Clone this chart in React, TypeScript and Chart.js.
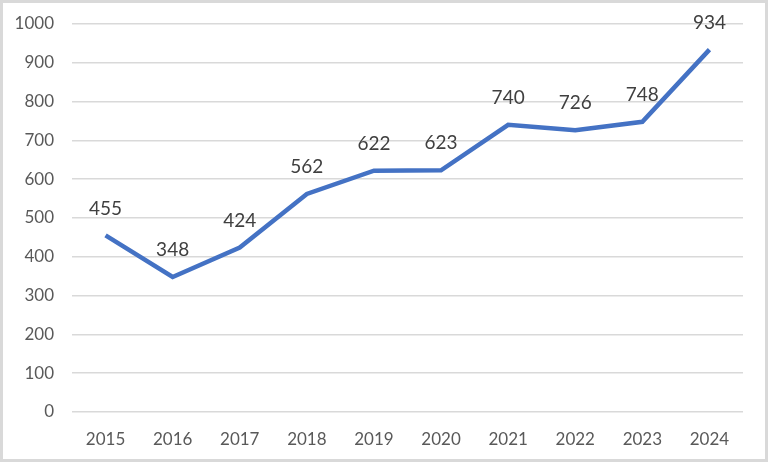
import React, { useEffect, useRef } from "react";
import { Chart, registerables } from "chart.js";

Chart.register(...registerables);

const categories = ["2015", "2016", "2017", "2018", "2019", "2020", "2021", "2022", "2023", "2024"];
const values = [455, 348, 424, 562, 622, 623, 740, 726, 748, 934];

const W = 768;
const H = 462;
const AREA = { left: 72, right: 743, top: 24, bottom: 412 };
const FONT = "Lato, 'Open Sans', sans-serif";

const borderPlugin = {
  id: "outerBorder",
  beforeDraw(chart: any) {
    const ctx = chart.ctx;
    ctx.save();
    ctx.fillStyle = "#ffffff";
    ctx.fillRect(0, 0, chart.width, chart.height);
    ctx.strokeStyle = "#d9d9d9";
    ctx.lineWidth = 3;
    ctx.strokeRect(1.5, 1.5, chart.width - 3, chart.height - 3);
    ctx.restore();
  },
};

const labelPlugin = {
  id: "pointLabels",
  afterDatasetsDraw(chart: any) {
    const ctx = chart.ctx;
    const meta = chart.getDatasetMeta(0);
    ctx.save();
    ctx.fillStyle = "#404040";
    ctx.font = `19px ${FONT}`;
    ctx.textAlign = "center";
    ctx.textBaseline = "middle";
    meta.data.forEach((pt: any, i: number) => {
      ctx.fillText(String(values[i]), pt.x, pt.y - 27);
    });
    ctx.restore();
  },
};

export default function App() {
  const ref = useRef<HTMLCanvasElement>(null);
  useEffect(() => {
    const chart = new Chart(ref.current!, {
      type: "line",
      data: {
        labels: categories,
        datasets: [
          {
            data: values,
            borderColor: "#4472C4",
            borderWidth: 4.5,
            pointRadius: 0,
            pointHoverRadius: 0,
            tension: 0,
            fill: false,
          },
        ],
      },
      options: {
        animation: false,
        responsive: false,
        maintainAspectRatio: false,
        events: [],
        layout: {
          padding: { left: 0, top: AREA.top, right: W - AREA.right, bottom: 0 },
        },
        plugins: {
          legend: { display: false },
          tooltip: { enabled: false },
        },
        scales: {
          x: {
            offset: true,
            grid: { display: false },
            border: { display: false },
            ticks: { color: "#595959", font: { family: FONT, size: 17 }, padding: 9 },
            afterFit(scale: any) {
              scale.height = H - AREA.bottom;
            },
          },
          y: {
            min: 0,
            max: 1000,
            ticks: {
              stepSize: 100,
              color: "#595959",
              font: { family: FONT, size: 17 },
              padding: 18,
              callback: (v: any) => String(v),
            },
            grid: { color: "#d9d9d9", lineWidth: 1.5, drawTicks: false },
            border: { display: false },
            afterFit(scale: any) {
              scale.width = AREA.left;
              scale.paddingTop = 0;
              scale.paddingBottom = 0;
            },
          },
        },
      },
      plugins: [borderPlugin, labelPlugin],
    });
    return () => chart.destroy();
  }, []);
  return (
    <div style={{ position: "fixed", left: 0, top: 0, width: W, height: H }}>
      <canvas ref={ref} width={W} height={H} style={{ width: W, height: H, display: "block" }} />
    </div>
  );
}
